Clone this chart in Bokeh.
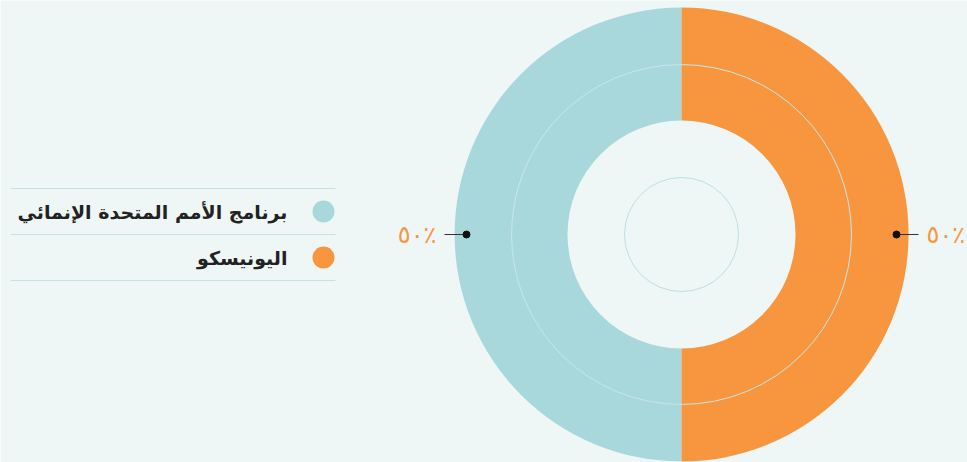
import math
from bokeh.plotting import figure
from bokeh.models import Range1d, ColumnDataSource
from bokeh.core.properties import value
from bokeh.embed import file_html
from bokeh.resources import INLINE

# ---- data ----
categories = ["برنامج الأمم المتحدة الإنمائي", "اليونيسكو"]
shares = [50, 50]
colors = ["#A9D8DC", "#F7963F"]
pct_labels = ["٥٠٪", "٥٠٪"]

BG = "#EFF7F6"
W, H = 967, 462

p = figure(width=W, height=H, output_backend="svg", toolbar_location=None,
           x_range=Range1d(-681, 286), y_range=Range1d(-228, 234),
           min_border=0, match_aspect=False)
p.axis.visible = False
p.grid.visible = False
p.outline_line_color = None
p.background_fill_color = BG
p.border_fill_color = BG

R_IN, R_OUT = 114, 227

total = sum(shares)
order = [1, 0]  # second category starts at top, clockwise
ang = {}
cur = math.pi / 2
for i in order:
    sweep = shares[i] / total * 2 * math.pi
    ang[i] = (cur - sweep, cur)
    cur -= sweep
src = ColumnDataSource(dict(
    start=[ang[i][0] for i in range(len(shares))],
    end=[ang[i][1] for i in range(len(shares))],
    color=colors,
))
p.annular_wedge(x=0, y=0, inner_radius=R_IN, outer_radius=R_OUT,
                start_angle="start", end_angle="end", color="color",
                line_color=None, source=src)

# decorative rings
p.circle(x=0, y=0, radius=170, fill_color=None, line_color="#C8E6E8", line_width=1)
p.circle(x=0, y=0, radius=57, fill_color=None, line_color="#BCDFE1", line_width=1)

# percent labels with leaders
R_DOT, R_LINE, R_TXT = 215, 237, 245
for i in range(len(shares)):
    mid = (ang[i][0] + ang[i][1]) / 2
    cx, cy = math.cos(mid), math.sin(mid)
    p.segment(x0=R_DOT * cx, y0=R_DOT * cy, x1=R_LINE * cx, y1=R_LINE * cy,
              line_color="#333333", line_width=1.2)
    p.scatter(x=[R_DOT * cx], y=[R_DOT * cy], size=7, color="#111111")
    p.text(x=[R_TXT * cx], y=[R_TXT * cy], text=[pct_labels[i]],
           text_align="left" if cx > 0 else "right", text_baseline="middle",
           text_color="#F7963F", text_font=value("DejaVu Sans"),
           text_font_size="24px")

# legend
LX_DOT, LX_TXT = -358, -394
ly = [23, -23]
p.segment(x0=[-671] * 3, x1=[-346] * 3, y0=[46, 0, -46], y1=[46, 0, -46],
          line_color="#C4E2E4", line_width=1)
p.scatter(x=[LX_DOT] * 2, y=ly, size=22, color=colors, line_color=None)
p.text(x=[LX_TXT] * 2, y=ly, text=categories, text_align="right",
       text_baseline="middle", text_color="#222222",
       text_font=value("DejaVu Sans"), text_font_style="bold",
       text_font_size="19px")

open("out.html", "w").write(file_html(p, INLINE))
